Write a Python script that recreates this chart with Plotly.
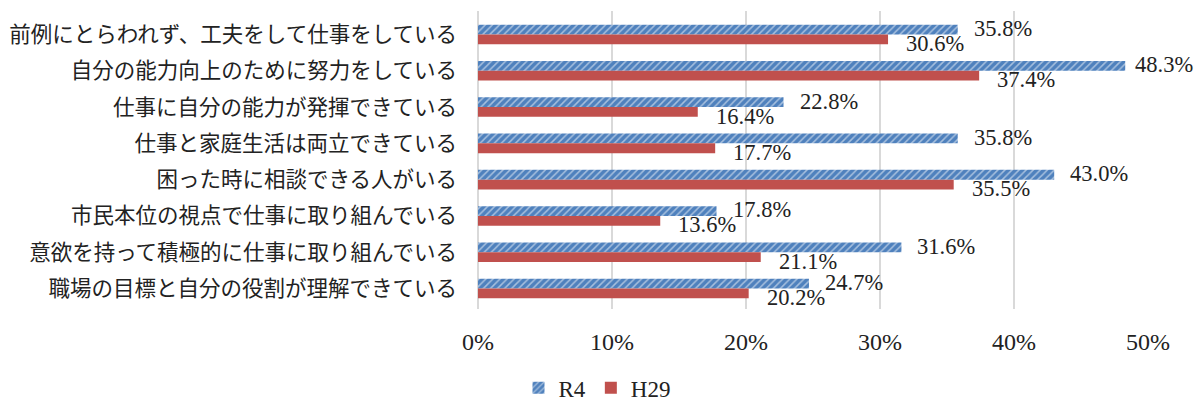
import plotly.graph_objects as go

categories = [
    "前例にとらわれず、工夫をして仕事をしている",
    "自分の能力向上のために努力をしている",
    "仕事に自分の能力が発揮できている",
    "仕事と家庭生活は両立できている",
    "困った時に相談できる人がいる",
    "市民本位の視点で仕事に取り組んでいる",
    "意欲を持って積極的に仕事に取り組んでいる",
    "職場の目標と自分の役割が理解できている",
]
r4 = [35.8, 48.3, 22.8, 35.8, 43.0, 17.8, 31.6, 24.7]
h29 = [30.6, 37.4, 16.4, 17.7, 35.5, 13.6, 21.1, 20.2]
tick_vals = [0, 10, 20, 30, 40, 50]
tick_text = ["0%", "10%", "20%", "30%", "40%", "50%"]

FONT = "'Liberation Serif', 'Noto Sans CJK JP', serif"
BLUE = "#4F81BD"
RED = "#C0504D"

fig = go.Figure()
fig.add_trace(go.Bar(
    name="R4", y=categories, x=r4, orientation="h",
    marker=dict(color=BLUE, line=dict(width=0),
                pattern=dict(shape="/", fgcolor="white", bgcolor=BLUE,
                             size=5, solidity=0.3, fillmode="overlay")),
))
fig.add_trace(go.Bar(
    name="H29", y=categories, x=h29, orientation="h",
    marker=dict(color=RED, line=dict(width=0)),
))

annotations = []
for cat, v in zip(categories, r4):
    annotations.append(dict(x=v, y=cat, xref="x", yref="y", text=f"{v:.1f}%",
                            showarrow=False, xanchor="left", yanchor="middle",
                            xshift=8 if v > 47 else 14, yshift=6,
                            font=dict(family=FONT, size=22.5, color="#222")))
for cat, v in zip(categories, h29):
    annotations.append(dict(x=v, y=cat, xref="x", yref="y", text=f"{v:.1f}%",
                            showarrow=False, xanchor="left", yanchor="middle",
                            xshift=16, yshift=-9,
                            font=dict(family=FONT, size=22.5, color="#222")))

fig.update_layout(
    width=1194, height=403,
    margin=dict(l=478, r=46, t=11, b=94),
    barmode="group", bargap=0.46, bargroupgap=0,
    plot_bgcolor="white", paper_bgcolor="white",
    font=dict(family=FONT, size=21, color="#222"),
    legend=dict(orientation="h", x=0.5, xref="container", xanchor="center",
                y=0.038, yref="container", yanchor="middle",
                font=dict(size=23), itemwidth=30),
    showlegend=True,
    annotations=annotations,
)
fig.update_xaxes(range=[0, 50], tickvals=tick_vals, ticktext=tick_text,
                 showgrid=True, gridcolor="#D9D9D9", gridwidth=2,
                 zeroline=True, zerolinecolor="#D9D9D9", zerolinewidth=2,
                 ticks="", ticklabelstandoff=16, tickfont=dict(size=24),
                 automargin=False)
fig.update_yaxes(autorange="reversed", ticks="", tickfont=dict(size=21.5),
                 ticklabelstandoff=20, automargin=False)
fig.write_html("out.html")
